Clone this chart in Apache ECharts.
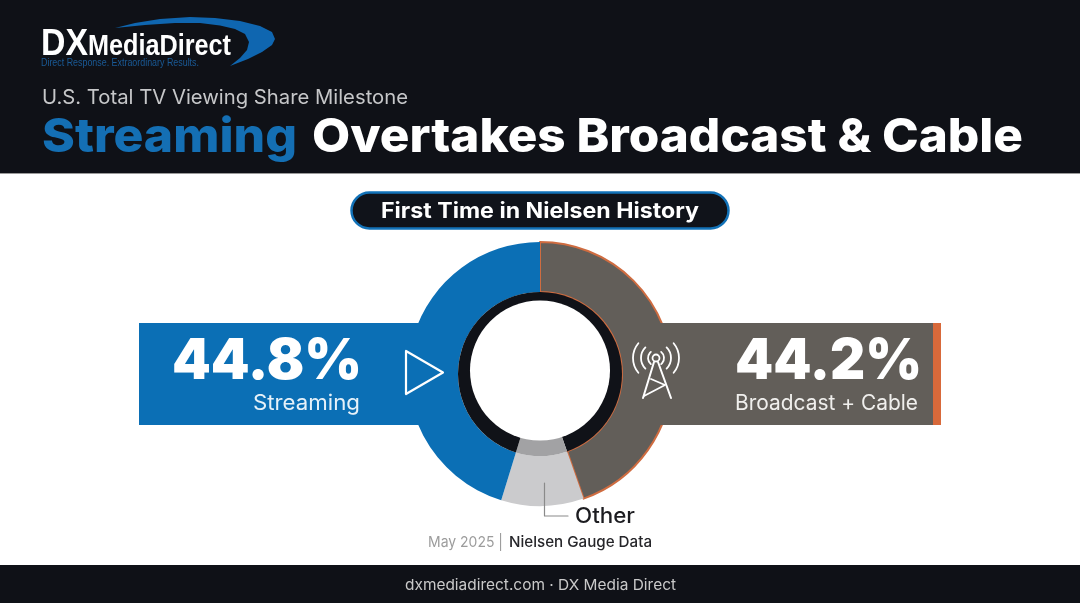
<!DOCTYPE html>
<html>
<head>
<meta charset="utf-8">
<title>Streaming Overtakes Broadcast & Cable</title>
<style>
html, body { margin: 0; padding: 0; background: #fff; }
#chart { width: 1080px; height: 603px; }
</style>
<script src="https://cdn.jsdelivr.net/npm/echarts@6/dist/echarts.min.js"></script>
</head>
<body>
<div id="chart"></div>
<script>
// data, Other has no printed number so it is the slice's estimated size
var categories = ['Broadcast + Cable', 'Other', 'Streaming'];
var shareValues = [44.2, 10, 44.8];
var sliceColors = ['#625e59', '#cbcbcd', '#0b6fb5'];
var ringColors = ['#101218', '#a2a2a4', '#101218'];

var FONT = 'Inter, "Noto Sans", sans-serif';
var measureCtx = document.createElement('canvas').getContext('2d');

// text squeezed or stretched to the width it has in the picture
function fitText(text, x, width, y, size, weight, color, family) {
    var font = weight + ' ' + size + 'px ' + (family || FONT);
    measureCtx.font = font;
    return {
        type: 'text',
        x: x,
        y: y,
        z: 20,
        silent: true,
        scaleX: width / measureCtx.measureText(text).width,
        style: {
            text: text,
            x: 0,
            y: 0,
            font: font,
            fill: color,
            align: 'left',
            verticalAlign: 'middle'
        }
    };
}

function rect(x, y, w, h, fill, z, extra) {
    return {
        type: 'rect',
        z: z,
        silent: true,
        shape: Object.assign({ x: x, y: y, width: w, height: h }, extra && extra.shape),
        style: Object.assign({ fill: fill }, extra && extra.style)
    };
}

function line(points, color, width, z) {
    return {
        type: 'polyline',
        z: z || 20,
        silent: true,
        shape: { points: points },
        style: { fill: null, stroke: color, lineWidth: width, lineCap: 'round', lineJoin: 'round' }
    };
}

// radio waves either side of the mast
function wave(r, startDeg, endDeg) {
    return {
        type: 'arc',
        z: 20,
        silent: true,
        shape: { cx: 656, cy: 358, r: r, startAngle: startDeg * Math.PI / 180, endAngle: endDeg * Math.PI / 180 },
        style: { fill: null, stroke: '#ffffff', lineWidth: 1.8, lineCap: 'round' }
    };
}

var graphics = [
    rect(0, 0, 1080, 173, '#0f1117', 1),
    rect(0, 173, 1080, 1, '#9a9a9a', 1),
    rect(0, 565, 1080, 38, '#0f1117', 1),

    // logo
    {
        type: 'polygon', z: 20, silent: true,
        shape: {
            points: [[115, 28], [135, 23], [160, 19], [190, 17], [215, 18], [240, 21], [260, 26], [272, 32], [275, 39],
                [272, 45], [262, 52], [248, 59], [230, 66], [240, 58], [247, 50], [249, 42], [245, 34], [235, 29],
                [220, 25.5], [200, 23], [175, 23], [145, 25]]
        },
        style: { fill: '#0f66b0' }
    },
    fitText('DX', 41, 47, 45, 37, 'bold', '#ffffff', '"Liberation Sans"'),
    fitText('MediaDirect', 88, 143, 47, 29, 'bold', '#ffffff', '"Liberation Sans Narrow", "Liberation Sans"'),
    fitText('Direct Response. Extraordinary Results.', 41, 158, 63, 10, 'normal', '#1a5a96', '"Liberation Sans"'),

    // header
    fitText('U.S. Total TV Viewing Share Milestone', 42, 366, 98, 20, 'normal', '#c6c7c9'),
    fitText('Streaming', 42, 255, 138, 47, '800', '#146fb4'),
    fitText('Overtakes Broadcast & Cable', 312, 711, 138, 47, '800', '#ffffff'),

    // pill
    rect(351.5, 192.5, 377, 36, '#10131a', 5, {
        shape: { r: 18 },
        style: { stroke: '#1272b8', lineWidth: 2.5 }
    }),
    fitText('First Time in Nielsen History', 381, 318, 212, 21, '700', '#ffffff'),

    // side bands, they sit above the ring so the orange edge stops at them
    rect(139, 323, 290, 102, sliceColors[2], 10),
    rect(660, 323, 281, 102, sliceColors[0], 10),
    rect(933, 323, 8, 102, '#d8693a', 11),

    // hole, slightly above the ring centre like in the picture
    { type: 'circle', z: 15, silent: true, shape: { cx: 540, cy: 370.5, r: 70 }, style: { fill: '#ffffff' } },

    // streaming band
    fitText(shareValues[2].toFixed(1) + '%', 172, 190, 362, 56, '900', '#ffffff'),
    fitText(categories[2], 253, 107, 404, 21, 'normal', '#e6f1f9'),
    line([[406, 351], [443, 372.5], [406, 394], [406, 351]], '#ffffff', 2.2),

    // broadcast band
    fitText(shareValues[0].toFixed(1) + '%', 735, 187, 362, 56, '900', '#ffffff'),
    fitText(categories[0], 735, 183, 404, 21, 'normal', '#f0efed'),
    wave(8, 130, 230), wave(8, -50, 50),
    wave(15, 135, 225), wave(15, -45, 45),
    wave(23, 140, 220), wave(23, -40, 40),
    { type: 'circle', z: 20, silent: true, shape: { cx: 656, cy: 358, r: 3.5 }, style: { fill: 'none', stroke: '#ffffff', lineWidth: 1.8 } },
    line([[654, 362], [643, 398]], '#ffffff', 2),
    line([[658, 362], [671, 398]], '#ffffff', 2),
    line([[651, 379], [665, 385], [644, 396]], '#ffffff', 1.8),

    // other callout
    line([[544.5, 483], [544.5, 516], [568, 516]], '#8a8a8a', 1.2),
    fitText(categories[1], 575, 60, 517, 21, '500', '#1c1c20'),

    // source and footer
    fitText('May 2025 |', 428, 75, 542, 15, 'normal', '#9c9c9c'),
    fitText('Nielsen Gauge Data', 509, 143, 542, 15, '500', '#26262a'),
    fitText('dxmediadirect.com · DX Media Direct', 405, 271, 585, 15, 'normal', '#c9c9c9')
];

function pieData(colors, withBorder) {
    return categories.map(function (name, i) {
        var style = { color: colors[i] };
        if (withBorder && i === 0) {
            style.borderColor = '#cf6c40';
            style.borderWidth = 2;
        }
        return { name: name, value: shareValues[i], itemStyle: style };
    });
}

var myChart = echarts.init(document.getElementById('chart'), null, { renderer: 'canvas' });
myChart.setOption({
    animation: false,
    backgroundColor: '#ffffff',
    tooltip: { show: false },
    graphic: { elements: graphics },
    series: [{
        name: 'share',
        type: 'pie',
        z: 3,
        silent: true,
        clockwise: true,
        startAngle: 90,
        center: [540, 374],
        radius: [82, 132],
        label: { show: false },
        labelLine: { show: false },
        data: pieData(sliceColors, true)
    }, {
        name: 'ring',
        type: 'pie',
        z: 4,
        silent: true,
        clockwise: true,
        startAngle: 90,
        center: [540, 374],
        radius: [0, 82],
        label: { show: false },
        labelLine: { show: false },
        data: pieData(ringColors, false)
    }]
});
</script>
</body>
</html>
